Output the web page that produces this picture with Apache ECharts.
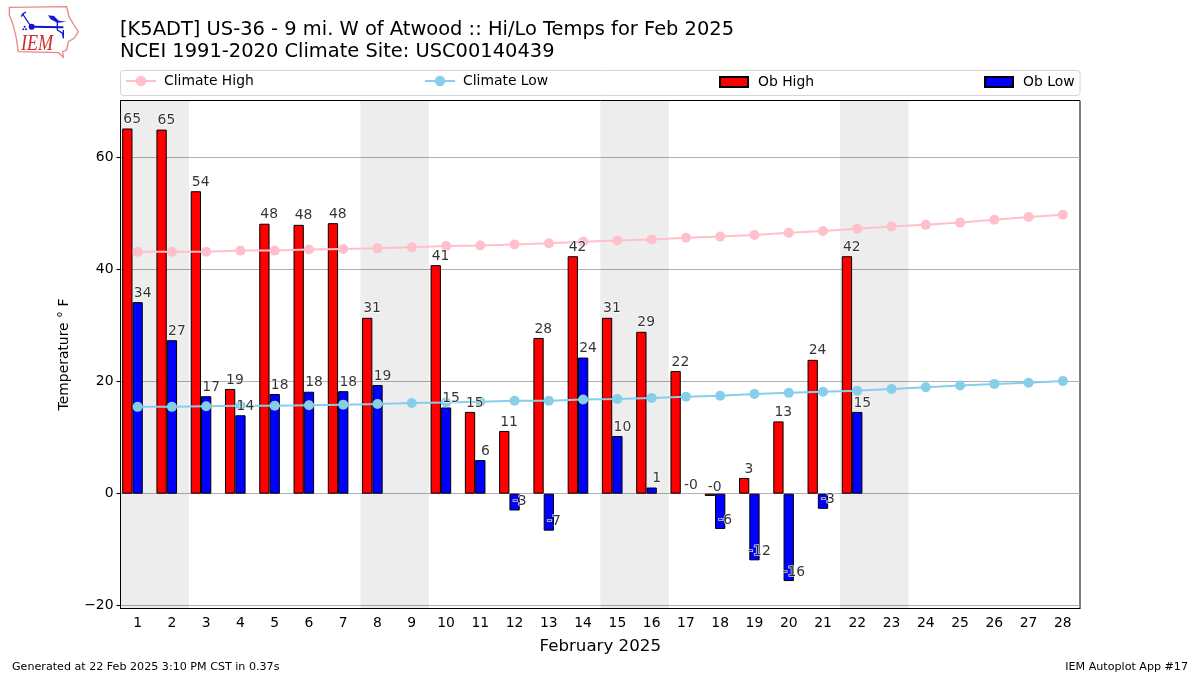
<!DOCTYPE html>
<html>
<head>
<meta charset="utf-8">
<style>html,body{margin:0;padding:0;background:#fff}#c{width:1200px;height:675px}</style>
<script src="https://cdn.jsdelivr.net/npm/echarts@6/dist/echarts.min.js"></script>
</head>
<body>
<div id="c"></div>
<script>
const days = ['1','2','3','4','5','6','7','8','9','10','11','12','13','14','15','16','17','18','19','20','21','22','23','24','25','26','27','28'];
const obHigh = [65.2,65,54,18.7,48.2,48,48.3,31.4,null,40.8,14.6,11.2,27.8,42.4,31.4,28.9,21.9,-0.4,2.8,12.9,23.9,42.4,null,null,null,null,null,null];
const obLow = [34.2,27.4,17.4,14,17.8,18.2,18.3,19.4,null,15.4,6,-3,-6.6,24.3,10.3,1.1,-0.1,-6.3,-11.9,-15.6,-2.7,14.6,null,null,null,null,null,null];
const climateHigh = [43.2,43.2,43.2,43.4,43.4,43.6,43.7,43.8,44,44.2,44.3,44.5,44.7,45,45.2,45.4,45.7,45.9,46.2,46.6,46.9,47.3,47.7,48,48.4,48.9,49.4,49.8];
const climateLow = [15.5,15.5,15.6,15.7,15.7,15.8,15.9,16,16.2,16.3,16.4,16.6,16.6,16.8,16.9,17.1,17.3,17.5,17.8,18,18.2,18.4,18.7,19,19.3,19.6,19.8,20.1];
const weekendBands = [[0.5,2.5],[7.5,9.5],[14.5,16.5],[21.5,23.5]];
const yTicks = [-20,0,20,40,60];
const titleText = '[K5ADT] US-36 - 9 mi. W of Atwood :: Hi/Lo Temps for Feb 2025\nNCEI 1991-2020 Climate Site: USC00140439';

const FONT = '"DejaVu Sans"';
const valueLabel = (offsetX) => ({
  show: true, position: 'top', distance: 2, offset: [offsetX, 0],
  fontFamily: FONT, fontSize: 13.9, color: '#000',
  textBorderColor: '#fff', textBorderWidth: 1.5,
  formatter: p => Number(p.value).toFixed(0)
});
const barStyle = c => ({ color: c, borderColor: '#000', borderWidth: 1 });
// a reading that rounds to zero has no visible bar in the picture
const barValues = arr => arr.map(v => (v !== null && Math.abs(v) < 0.2) ? null : v);
const legendAt = (left, name, isLine) => ({
  left, top: isLine ? 74 : 75, data: [name], itemWidth: isLine ? 30 : 28, itemHeight: isLine ? 13 : 10, padding: 0,
  icon: isLine ? undefined : 'rect',
  lineStyle: isLine ? { width: 2 } : undefined,
  textStyle: { fontFamily: FONT, fontSize: 13.9, color: '#000', padding: [0, 0, 0, isLine ? 3 : 5] }
});

const chart = echarts.init(document.getElementById('c'), null, { renderer: 'canvas' });
chart.setOption({
  animation: false,
  backgroundColor: '#fff',
  title: {
    text: titleText, left: 120, top: 19, padding: 0,
    textStyle: { fontFamily: FONT, fontSize: 19.46, fontWeight: 'normal', color: '#000', lineHeight: 22 }
  },
  grid: { left: 120.5, right: 120, top: 100.5, height: 508, show: true, borderColor: '#000', borderWidth: 1, backgroundColor: 'transparent' },
  legend: [
    legendAt(125, 'Climate High', true),
    legendAt(424, 'Climate Low', true),
    legendAt(719, 'Ob High', false),
    legendAt(984, 'Ob Low', false)
  ],
  xAxis: [
    {
      type: 'category', data: days, name: 'February 2025', nameLocation: 'middle', nameGap: 30,
      nameTextStyle: { fontFamily: FONT, fontSize: 16.67, color: '#000' },
      axisLine: { onZero: false, lineStyle: { color: '#000' } },
      axisTick: { alignWithLabel: true, length: 4, lineStyle: { color: '#000' } },
      axisLabel: { fontFamily: FONT, fontSize: 13.9, color: '#000', margin: 8, interval: 0 },
      splitLine: { show: false }
    },
    { type: 'value', min: 0.5, max: 28.5, show: false, splitLine: { show: false } }
  ],
  yAxis: {
    type: 'value', min: -20.5, max: 70.2, interval: 20,
    name: 'Temperature ° F', nameLocation: 'middle', nameGap: 49, nameRotate: 90,
    nameTextStyle: { fontFamily: FONT, fontSize: 13.9, color: '#000' },
    axisLine: { show: true, lineStyle: { color: '#000' } },
    axisTick: { show: true, length: 4, lineStyle: { color: '#000' }, customValues: yTicks },
    axisLabel: {
      fontFamily: FONT, fontSize: 13.9, color: '#000', margin: 7,
      customValues: yTicks, formatter: v => String(v).replace('-', '\u2212')
    },
    splitLine: { show: true, lineStyle: { color: '#b0b0b0', width: 1 } }
  },
  series: [
    {
      name: 'bands', type: 'line', xAxisIndex: 1, data: [], silent: true, z: 1,
      markArea: {
        silent: true, itemStyle: { color: 'rgba(0,0,0,0.07)' },
        data: weekendBands.map(b => [{ xAxis: b[0], yAxis: -20.5 }, { xAxis: b[1], yAxis: 70.2 }])
      }
    },
    { name: 'Ob High', type: 'bar', data: barValues(obHigh), barWidth: 10.3, barGap: 0, itemStyle: barStyle('#ff0000'), z: 3 },
    { name: 'Ob Low', type: 'bar', data: barValues(obLow), barWidth: 10.3, barGap: 0, itemStyle: barStyle('#0000ff'), z: 3 },
    { name: 'slot', type: 'bar', data: [], barWidth: 10.3, barGap: 0, z: 3 },
    {
      name: 'Climate High', type: 'line', data: climateHigh, symbol: 'circle', symbolSize: 10, showSymbol: true,
      lineStyle: { color: '#ffc0cb', width: 2 }, itemStyle: { color: '#ffc0cb' }, z: 4
    },
    {
      name: 'Climate Low', type: 'line', data: climateLow, symbol: 'circle', symbolSize: 10, showSymbol: true,
      lineStyle: { color: '#87ceeb', width: 2 }, itemStyle: { color: '#87ceeb' }, z: 4
    },
    { name: 'high labels', type: 'scatter', data: obHigh, symbolSize: 0, silent: true, label: valueLabel(-5.5), z: 6 },
    { name: 'low labels', type: 'scatter', data: obLow, symbolSize: 0, silent: true, label: valueLabel(5), z: 6 }
  ],
  graphic: [
    { type: 'rect', silent: true, z: -1, shape: { x: 120.5, y: 70.5, width: 959.5, height: 25, r: 3 }, style: { fill: '#fff', stroke: '#d4d4d4', lineWidth: 1 } },
    { type: 'text', silent: true, left: 12, top: 661.5, style: { text: 'Generated at 22 Feb 2025 3:10 PM CST in 0.37s', font: '11.12px ' + FONT, fill: '#000' } },
    { type: 'text', silent: true, right: 12, top: 661.5, style: { text: 'IEM Autoplot App #17', font: '11.12px ' + FONT, fill: '#000' } },
    {
      type: 'group', silent: true, x: 0, y: 0, scaleX: 1 / 3, scaleY: 1 / 3,
      children: [
        { type: 'polygon', shape: { points: [[28,22],[200,20],[207,50],[222,75],[235,95],[222,115],[205,125],[200,150],[188,155],[190,172],[175,158],[55,155],[48,110],[38,70],[28,45]] }, style: { fill: '#fff', stroke: '#e58a8a', lineWidth: 4 } },
        { type: 'polyline', shape: { points: [[95,80],[190,82]] }, style: { stroke: '#1414d2', lineWidth: 6, fill: null } },
        { type: 'circle', shape: { cx: 95, cy: 80, r: 9 }, style: { fill: '#1414d2' } },
        { type: 'polyline', shape: { points: [[90,75],[68,42],[78,36],[68,42],[64,50]] }, style: { stroke: '#1414d2', lineWidth: 4, fill: null } },
        { type: 'polygon', shape: { points: [[144,46],[162,48],[176,62],[200,65],[172,68],[152,58]] }, style: { fill: '#1414d2' } },
        { type: 'polyline', shape: { points: [[172,62],[172,90],[188,100],[190,115],[190,90]] }, style: { stroke: '#1414d2', lineWidth: 4, fill: null } },
        { type: 'circle', shape: { cx: 74, cy: 80, r: 3 }, style: { fill: '#1414d2' } },
        { type: 'circle', shape: { cx: 70, cy: 88, r: 3 }, style: { fill: '#1414d2' } },
        { type: 'circle', shape: { cx: 78, cy: 88, r: 3 }, style: { fill: '#1414d2' } },
        { type: 'text', x: 63, y: 131, scaleX: 0.8, style: { text: 'IEM', font: 'italic 68px "Liberation Serif"', fill: '#d42a2a', verticalAlign: 'middle' } }
      ]
    }
  ]
});
</script>
</body>
</html>
